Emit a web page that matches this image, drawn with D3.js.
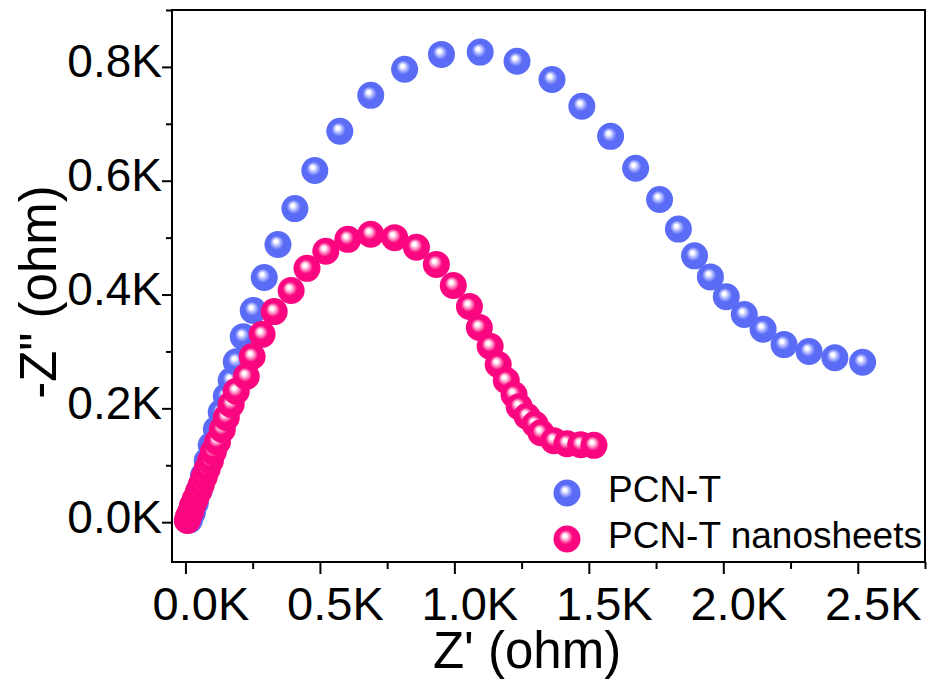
<!DOCTYPE html>
<html>
<head>
<meta charset="utf-8">
<script src="https://cdn.jsdelivr.net/npm/d3@7"></script>
<style>
  body { margin: 0; background: #fff; }
  svg text { font-family: "Liberation Sans", Arial, sans-serif; fill: #000; }
</style>
</head>
<body>
<script>
'use strict';

// PCN-T (Z', -Z'') in ohm
const pcnX = [15, 26, 37, 52, 67, 81, 96, 115, 133, 152, 170, 189, 215, 252, 293, 344, 407, 481, 574, 689,
  815, 952, 1096, 1233, 1363, 1474, 1581, 1674, 1763, 1833, 1893, 1952, 2011, 2078, 2148, 2226, 2319, 2415, 2518];
const pcnY = [4, 17, 34, 57, 82, 108, 135, 163, 193, 221, 249, 282, 326, 372, 430, 488, 551, 618, 687, 750,
  796, 822, 826, 810, 778, 731, 678, 622, 567, 515, 468, 431, 396, 365, 339, 312, 300, 289, 281];

// PCN-T nanosheets
const nanoX = [7, 11, 19, 26, 37, 48, 59, 70, 81, 93, 104, 119, 137, 152, 170, 189, 226, 248, 285, 330,
  393, 452, 522, 604, 689, 778, 859, 933, 996, 1056, 1093, 1133, 1163, 1193, 1222, 1241, 1270, 1300, 1322,
  1370, 1419, 1470, 1519];
const nanoY = [3, 10, 18, 29, 41, 53, 66, 80, 94, 108, 124, 141, 163, 184, 207, 230, 256, 291, 330, 370,
  407, 446, 476, 497, 506, 500, 483, 453, 416, 379, 342, 309, 277, 249, 224, 203, 186, 172, 157,
  143, 138, 136, 135];

const seriesNames = ['PCN-T', 'PCN-T nanosheets'];
const xTicks = [0, 500, 1000, 1500, 2000, 2500];
const yTicks = [0, 200, 400, 600, 800];

(function() {

  const W = 931, H = 683;
  const pLeft = 172, pRight = 925, pTop = 10, pBottom = 562;

  const svg = d3.select('body').append('svg')
    .attr('width', W)
    .attr('height', H);

  const x = d3.scaleLinear().domain([-50, 2750]).range([pLeft, pRight]);
  const y = d3.scaleLinear().domain([-70, 900]).range([pBottom, pTop]);

  // sphere-like gradients for the markers
  const defs = svg.append('defs');
  function sphere(id, light, base) {
    let g = defs.append('radialGradient')
      .attr('id', id)
      .attr('cx', 0.5).attr('cy', 0.5).attr('r', 0.5)
      .attr('fx', 0.41).attr('fy', 0.37);
    g.append('stop').attr('offset', '0%').attr('stop-color', '#ffffff');
    g.append('stop').attr('offset', '12%').attr('stop-color', '#ffffff');
    g.append('stop').attr('offset', '30%').attr('stop-color', light);
    g.append('stop').attr('offset', '52%').attr('stop-color', base);
    g.append('stop').attr('offset', '100%').attr('stop-color', base);
  }
  sphere('gBlue', '#b0b8ff', '#5a6cf6');
  sphere('gPink', '#ff98c8', '#fa0680');
  const fills = ['url(#gBlue)', 'url(#gPink)'];

  // frame
  svg.append('rect')
    .attr('x', pLeft).attr('y', pTop)
    .attr('width', pRight - pLeft).attr('height', pBottom - pTop)
    .attr('fill', 'none')
    .attr('stroke', '#000')
    .attr('stroke-width', 2);

  // x axis
  let xMinor = d3.range(250, 2751, 500);
  svg.append('g')
    .attr('transform', `translate(0,${pBottom})`)
    .call(d3.axisBottom(x).tickValues(xMinor).tickSize(7).tickFormat(''))
    .call(g => g.select('.domain').remove())
    .selectAll('line').attr('stroke-width', 2);

  let xAxis = svg.append('g')
    .attr('transform', `translate(0,${pBottom})`)
    .call(d3.axisBottom(x).tickValues(xTicks).tickSize(12).tickPadding(13)
      .tickFormat(d => (d / 1000).toFixed(1) + 'K'));
  xAxis.select('.domain').remove();
  xAxis.selectAll('line').attr('stroke-width', 2);
  xAxis.selectAll('text')
    .attr('dx', 15)
    .style('font-size', '47px');

  // y axis
  let yMinor = d3.range(100, 901, 200);
  svg.append('g')
    .attr('transform', `translate(${pLeft},0)`)
    .call(d3.axisLeft(y).tickValues(yMinor).tickSize(6).tickFormat(''))
    .call(g => g.select('.domain').remove())
    .selectAll('line').attr('stroke-width', 2);

  let yAxis = svg.append('g')
    .attr('transform', `translate(${pLeft},0)`)
    .call(d3.axisLeft(y).tickValues(yTicks).tickSize(10).tickPadding(0)
      .tickFormat(d => (d / 1000).toFixed(1) + 'K'));
  yAxis.select('.domain').remove();
  yAxis.selectAll('line').attr('stroke-width', 2);
  yAxis.selectAll('text')
    .attr('dy', 10)
    .style('font-size', '46px');

  // axis titles
  svg.append('text')
    .attr('x', 527)
    .attr('y', 668)
    .attr('text-anchor', 'middle')
    .style('font-size', '51px')
    .text("Z' (ohm)");

  svg.append('text')
    .attr('transform', 'translate(56, 292) rotate(-90)')
    .attr('text-anchor', 'middle')
    .style('font-size', '51px')
    .text('-Z" (ohm)');

  // points
  const series = [
    d3.zip(pcnX, pcnY),
    d3.zip(nanoX, nanoY)
  ];
  series.forEach(function(pts, i) {
    svg.append('g').selectAll('circle')
      .data(pts)
      .enter()
      .append('circle')
        .attr('cx', d => x(d[0]))
        .attr('cy', d => y(d[1]))
        .attr('r', 13.5)
        .attr('fill', fills[i]);
  });

  // legend
  seriesNames.forEach(function(name, i) {
    svg.append('circle')
      .attr('cx', 567)
      .attr('cy', 493 + i * 46)
      .attr('r', 13.5)
      .attr('fill', fills[i]);
    svg.append('text')
      .attr('x', 608)
      .attr('y', 502 + i * 46)
      .style('font-size', '37px')
      .text(name);
  });
})();
</script>
</body>
</html>
